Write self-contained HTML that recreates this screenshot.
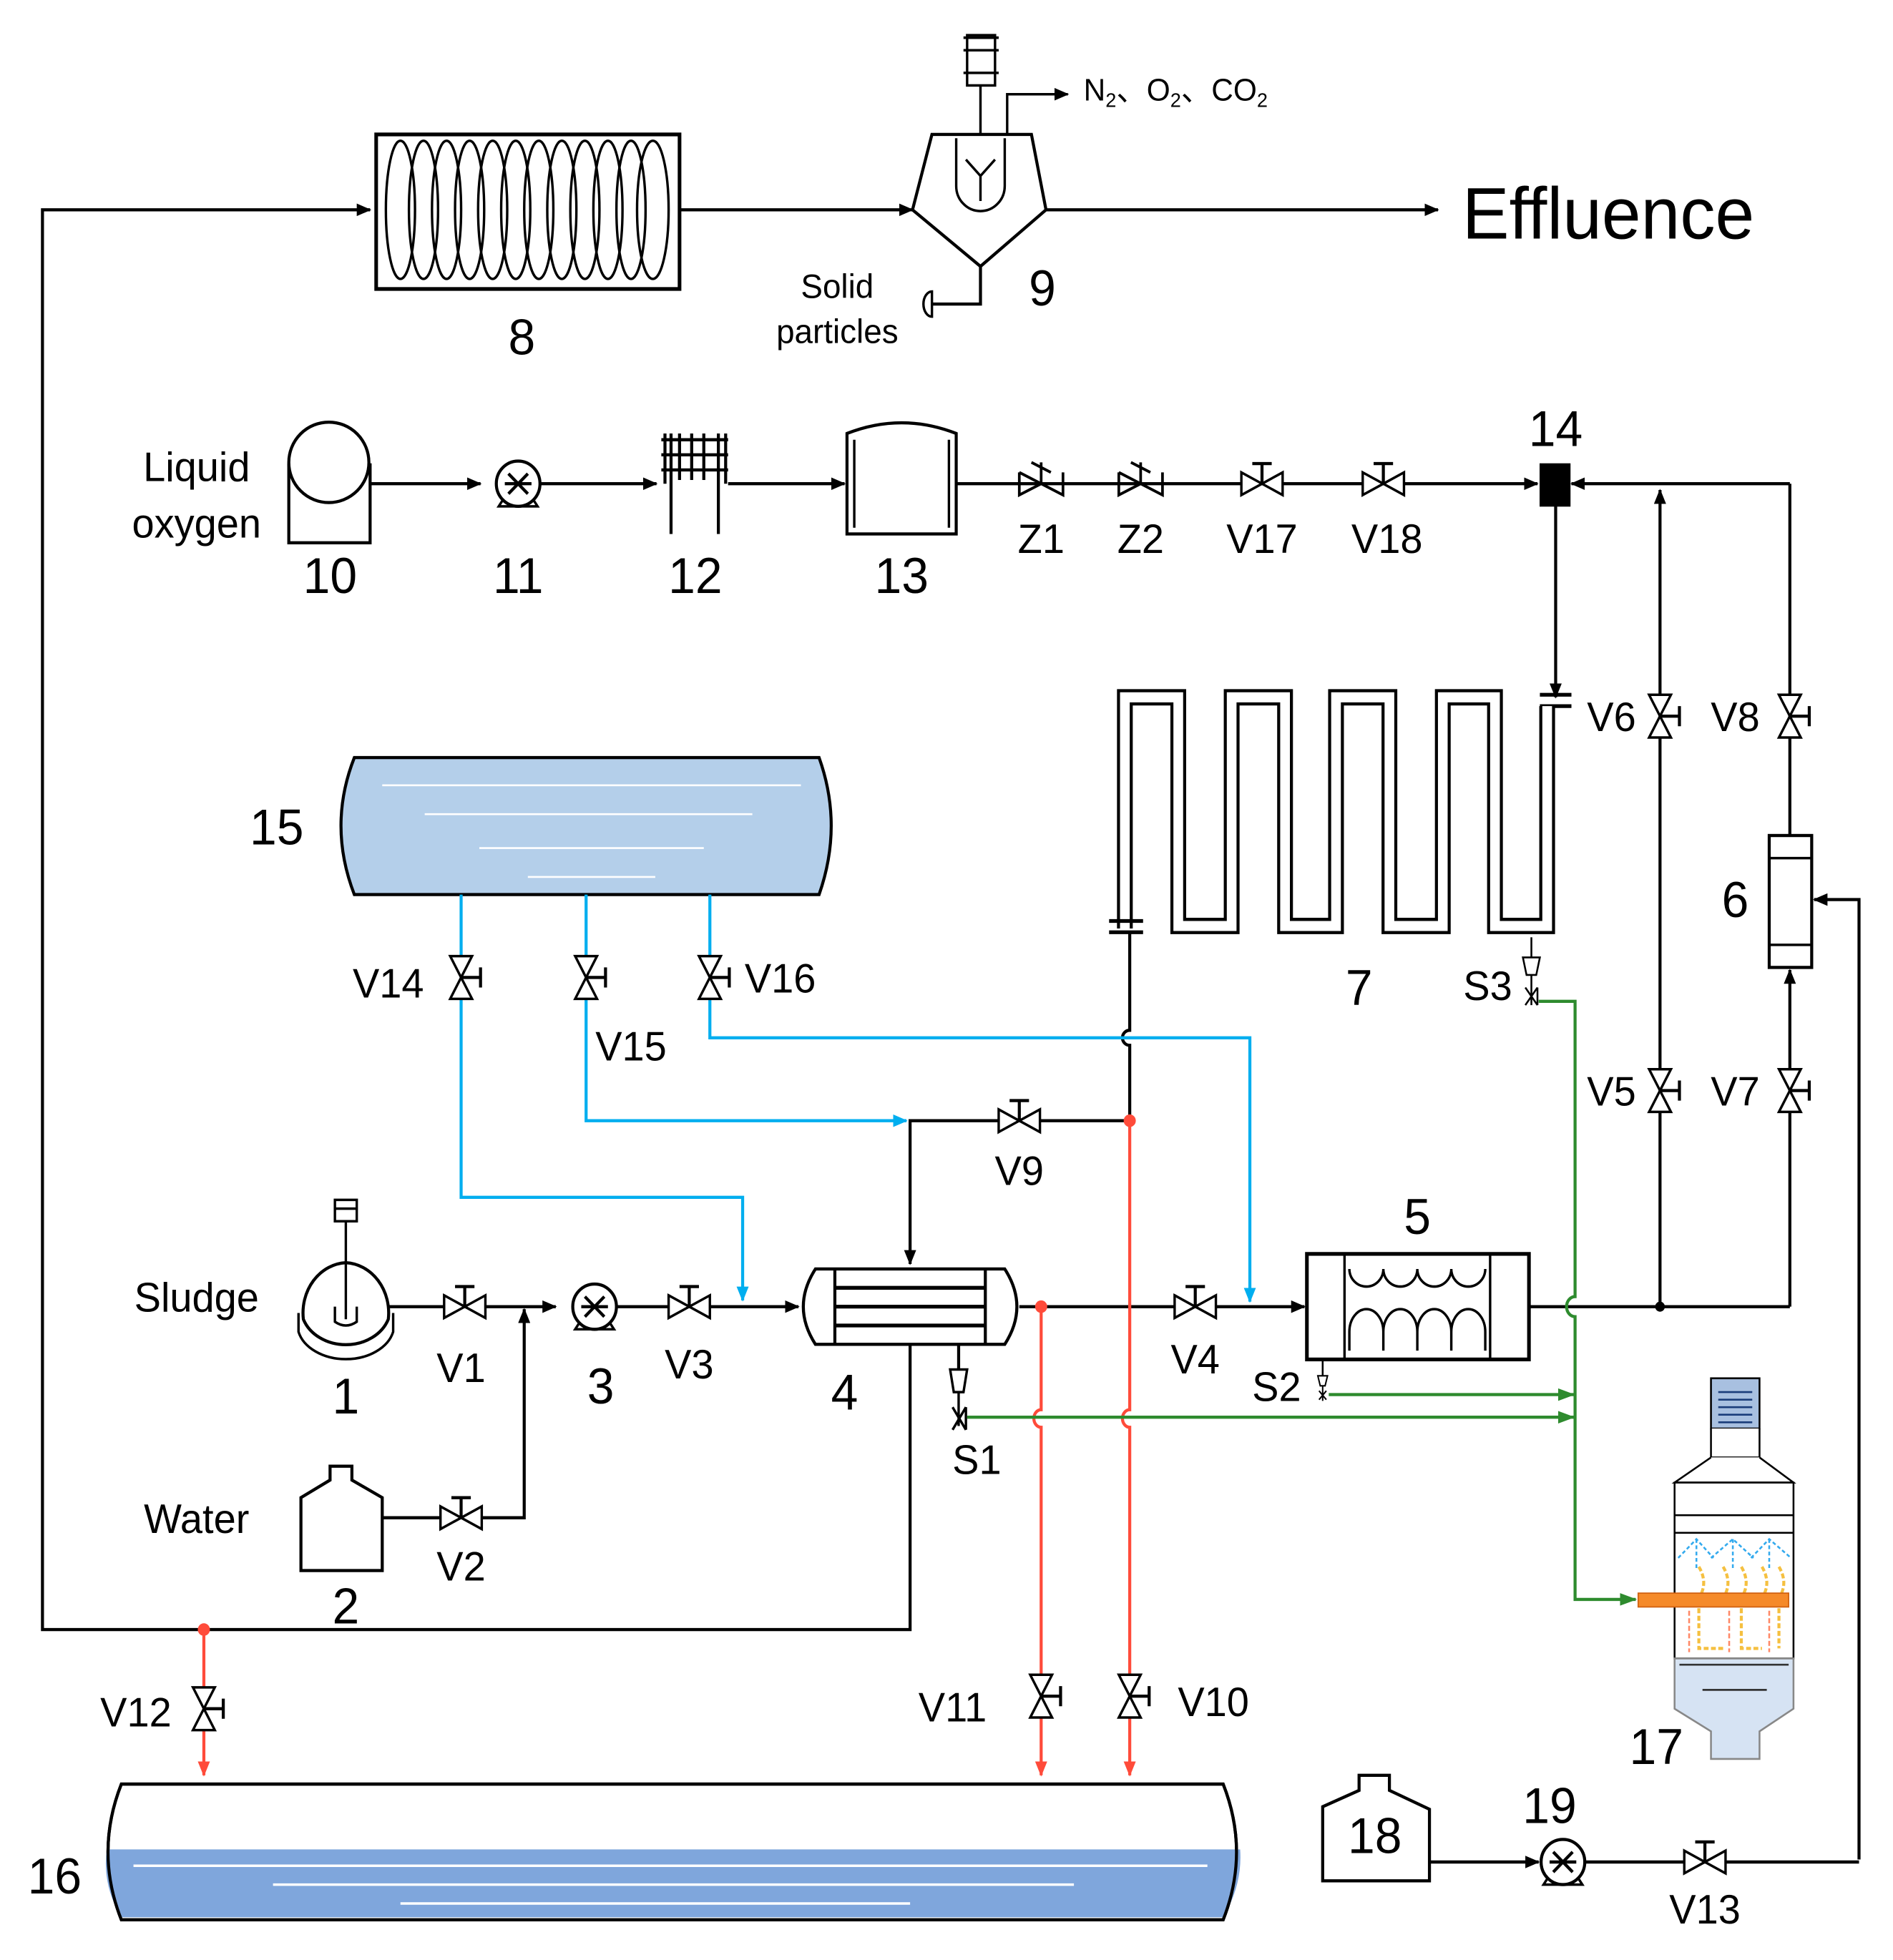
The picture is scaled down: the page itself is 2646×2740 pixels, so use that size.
<!DOCTYPE html>
<html><head><meta charset="utf-8"><style>
html,body{margin:0;padding:0;background:#fff}
svg{display:block}
text{font-family:"Liberation Sans","Noto Sans CJK SC",sans-serif;fill:#000}
</style></head><body>
<svg width="2646" height="2740" viewBox="0 0 1560 1560" preserveAspectRatio="none" xmlns="http://www.w3.org/2000/svg">
<defs>
<marker id="ab" markerWidth="12" markerHeight="10" refX="11" refY="5" orient="auto" markerUnits="userSpaceOnUse"><path d="M0,0 L12,5 L0,10 Z" fill="#000"/></marker>
<marker id="ar" markerWidth="12" markerHeight="10" refX="11" refY="5" orient="auto" markerUnits="userSpaceOnUse"><path d="M0,0 L12,5 L0,10 Z" fill="#ff4b3a"/></marker>
<marker id="abl" markerWidth="12" markerHeight="10" refX="11" refY="5" orient="auto" markerUnits="userSpaceOnUse"><path d="M0,0 L12,5 L0,10 Z" fill="#00aeef"/></marker>
<marker id="ag" markerWidth="14" markerHeight="10" refX="13" refY="5" orient="auto" markerUnits="userSpaceOnUse"><path d="M0,0 L14,5 L0,10 Z" fill="#2e8b2e"/></marker>
<g id="vh"><path d="M-17,-9 L17,9 L17,-9 L-17,9 Z" fill="#fff" stroke="#000" stroke-width="2"/><path d="M0,0 V-16 M-8,-16 H8" stroke="#000" stroke-width="2.5" fill="none"/></g>
<g id="vv"><path d="M-9,-17 L9,17 L-9,17 L9,-17 Z" fill="#fff" stroke="#000" stroke-width="2"/><path d="M0,0 H16 M16,-8 V8" stroke="#000" stroke-width="2.5" fill="none"/></g>
<g id="pump"><path d="M-16,18 L-10,9 L10,9 L16,18 Z" fill="#fff" stroke="#000" stroke-width="2"/><circle r="18" fill="#fff" stroke="#000" stroke-width="2.5"/><path d="M-8,-8 L8,8 M-8,8 L8,-8 M-11,0 H11" stroke="#000" stroke-width="2.5"/></g>
</defs>

<g fill="none" stroke="#000" stroke-width="2.5">
<path d="M750,1070 V1297 H35 V167 H305" marker-end="url(#ab)"/>
<rect x="310" y="107" width="250" height="123" stroke-width="3"/>
<g stroke-width="2">
<ellipse cx="330" cy="167" rx="12" ry="55"/><ellipse cx="349" cy="167" rx="12" ry="55"/><ellipse cx="368" cy="167" rx="12" ry="55"/><ellipse cx="387" cy="167" rx="12" ry="55"/><ellipse cx="406" cy="167" rx="12" ry="55"/><ellipse cx="425" cy="167" rx="12" ry="55"/><ellipse cx="444" cy="167" rx="12" ry="55"/><ellipse cx="463" cy="167" rx="12" ry="55"/><ellipse cx="482" cy="167" rx="12" ry="55"/><ellipse cx="501" cy="167" rx="12" ry="55"/><ellipse cx="520" cy="167" rx="12" ry="55"/><ellipse cx="538" cy="167" rx="13" ry="55"/>
</g>
<path d="M560,167 H752" marker-end="url(#ab)"/>
<path d="M768,107 H850 L862,167 L808,212 L752,167 Z" fill="#fff"/>
<path d="M788,110 V148 A20,20 0 0 0 828,148 V110" stroke-width="2"/>
<path d="M808,160 V140 L796,127 M808,140 L820,127" stroke-width="2"/>
<path d="M808,107 V68" stroke-width="2"/>
<rect x="797" y="28" width="23" height="40" fill="#fff" stroke-width="2"/>
<path d="M794,30 H823 M794,40 H823 M794,58 H823" stroke-width="2"/>
<path d="M830,107 V75 H880" stroke-width="2" marker-end="url(#ab)"/>
<path d="M862,167 H1185" marker-end="url(#ab)"/>
<path d="M808,212 V242 H768"/>
<path d="M768,232 A7,10 0 0 0 768,252 Z" stroke-width="2" fill="#fff"/>

<rect x="238" y="370" width="67" height="62" fill="#fff"/>
<ellipse cx="271" cy="368" rx="33" ry="32" fill="#fff"/>
<path d="M305,385 H396" marker-end="url(#ab)"/>
<use href="#pump" x="427" y="385"/>
<path d="M445,385 H541" marker-end="url(#ab)"/>
<g stroke-width="2.5"><path d="M553,345 V425 M592,345 V425 M560,345 V382 M570,345 V382 M580,345 V382 M545,350 H600 M545,362 H600 M545,374 H600 M548,345 V385 M598,345 V385"/></g>
<path d="M600,385 H696" marker-end="url(#ab)"/>
<path d="M698,425 V345 Q743,328 788,345 V425 Z" fill="#fff"/>
<path d="M704,350 V420 M782,350 V420" stroke-width="2"/>
<path d="M788,385 H1267" marker-end="url(#ab)"/>
<path d="M840,376 L876,394 V376 M840,376 V394 L858,385 M858,385 V368 M850,368 L866,376" stroke-width="2.2"/>
<path d="M922,376 L958,394 V376 M922,376 V394 L940,385 M940,385 V368 M932,368 L948,376" stroke-width="2.2"/>
<use href="#vh" x="1040" y="385"/><use href="#vh" x="1140" y="385"/>
<rect x="1270" y="370" width="23" height="32" fill="#000"/>
<path d="M1475,385 H1295" marker-end="url(#ab)"/>
<path d="M1282,402 V555" marker-end="url(#ab)"/>
<path d="M1269,553 H1295 M1269,562 H1295" stroke-width="3"/>
<path d="M1475,385 V665"/>
<use href="#vv" x="1475" y="570"/>
<rect x="1458" y="665" width="35" height="105" fill="#fff"/>
<path d="M1458,683 H1493 M1458,752 H1493" stroke-width="2"/>
<path d="M1475,1040 V772" marker-end="url(#ab)"/>
<use href="#vv" x="1475" y="868"/>
<path d="M1368,1040 V390" marker-end="url(#ab)"/>
<use href="#vv" x="1368" y="570"/>
<use href="#vv" x="1368" y="868"/>
<path d="M1260,1040 H1475"/>
<circle cx="1368" cy="1040" r="4" fill="#000" stroke="none"/>
<path d="M1532,1480 V716 H1495" marker-end="url(#ab)"/>
</g>

<path d="M927,739 V555 H971 V737 H1015 V555 H1059 V737 H1101 V555 H1145 V737 H1189 V555 H1232 V737 H1275 V562" fill="none" stroke="#000" stroke-width="13"/>
<path d="M927,739 V555 H971 V737 H1015 V555 H1059 V737 H1101 V555 H1145 V737 H1189 V555 H1232 V737 H1275 V562" fill="none" stroke="#fff" stroke-width="8"/>
<g stroke="#000" fill="none" stroke-width="3">
<path d="M914,733 H942 M914,742 H942"/>
</g>
<g stroke="#000" fill="none" stroke-width="2.5">
<path d="M931,742 V820 A6,6 0 0 0 931,832 V892 H750 V1006" marker-end="url(#ab)"/>
<use href="#vh" x="840" y="892"/>
<path d="M1262,746 V762" stroke-width="1.5"/>
</g>
<circle cx="931" cy="892" r="5" fill="#ff4b3a"/>

<path d="M292,603 H675 Q695,657 675,712 H292 Q270,657 292,603 Z" fill="#b4cfea" stroke="#000" stroke-width="2.5"/>
<g stroke="#fff" stroke-width="1.5"><path d="M315,625 H660 M350,648 H620 M395,675 H580 M435,698 H540"/></g>

<g fill="none" stroke="#00aeef" stroke-width="2.5">
<path d="M380,712 V953 H612 V1035" marker-end="url(#abl)"/>
<path d="M483,712 V892 H747" marker-end="url(#abl)"/>
<path d="M585,712 V826 H1030 V1036" marker-end="url(#abl)"/>
</g>
<use href="#vv" x="380" y="778"/><use href="#vv" x="483" y="778"/><use href="#vv" x="585" y="778"/>

<g fill="none" stroke="#000" stroke-width="2.5">
<path d="M285,1005 A37,40 0 0 0 250,1050 A37,30 0 0 0 320,1050 A37,40 0 0 0 285,1005 Z" fill="#fff"/>
<path d="M246,1045 V1060 A40,28 0 0 0 324,1060 V1045" stroke-width="2"/>
<path d="M285,1050 V972 M276,955 H294 V972 H276 Z M276,962 H294" stroke-width="2"/>
<path d="M276,1040 V1052 Q285,1058 294,1052 V1040" stroke-width="2"/>
<path d="M320,1040 H458" marker-end="url(#ab)"/>
<use href="#vh" x="383" y="1040"/>
<use href="#pump" x="490" y="1040"/>
<path d="M508,1040 H658" marker-end="url(#ab)"/>
<use href="#vh" x="568" y="1040"/>
<path d="M672,1010 H828 Q848,1040 828,1070 H672 Q652,1040 672,1010 Z" fill="#fff"/>
<path d="M688,1010 V1070 M812,1010 V1070"/>
<path d="M688,1025 H812 M688,1040 H812 M688,1055 H812" stroke-width="3"/>
<path d="M840,1040 H1075" marker-end="url(#ab)"/>
<use href="#vh" x="985" y="1040"/>
<path d="M790,1070 V1090"/>
<path d="M783,1090 H797 L794,1108 H786 Z" fill="#fff" stroke-width="2"/>
<path d="M790,1108 V1135 M785,1120 L796,1138 M785,1138 L796,1120 M796,1120 V1138" stroke-width="2"/>
<rect x="1077" y="998" width="183" height="84" fill="#fff" stroke-width="3"/>
<path d="M1108,998 V1082 M1228,998 V1082" stroke-width="2"/>
<path d="M1112,1010 A14,14 0 0 0 1140,1010 A14,14 0 0 0 1168,1010 A14,14 0 0 0 1196,1010 A14,14 0 0 0 1224,1010" stroke-width="2"/>
<path d="M1112,1075 V1060 A14,18 0 0 1 1140,1060 A14,18 0 0 1 1168,1060 A14,18 0 0 1 1196,1060 A14,18 0 0 1 1224,1060 V1075 M1140,1060 V1075 M1168,1060 V1075 M1196,1060 V1075" stroke-width="2"/>
<path d="M1090,1082 V1095" stroke-width="1.5"/>
<path d="M1086,1095 H1094 L1092,1103 H1088 Z M1090,1103 V1115 M1087,1107 L1093,1114 M1087,1114 L1093,1107" stroke-width="1.2"/>
<path d="M248,1250 V1192 L272,1178 V1167 H290 V1178 L315,1192 V1250 Z" fill="#fff"/>
<path d="M315,1208 H432 V1042" marker-end="url(#ab)"/>
<use href="#vh" x="380" y="1208"/>
</g>

<g fill="none" stroke="#ff4b3a" stroke-width="2.5">
<path d="M858,1040 V1122 A6,7 0 0 0 858,1136 V1413" marker-end="url(#ar)"/>
<path d="M931,892 V1122 A6,7 0 0 0 931,1136 V1413" marker-end="url(#ar)"/>
<path d="M168,1297 V1413" marker-end="url(#ar)"/>
</g>
<circle cx="858" cy="1040" r="5" fill="#ff4b3a"/>
<circle cx="168" cy="1297" r="5" fill="#ff4b3a"/>
<use href="#vv" x="858" y="1350"/><use href="#vv" x="931" y="1350"/><use href="#vv" x="168" y="1360"/>

<g fill="none" stroke="#2e8b2e" stroke-width="2.5">
<path d="M1095,1110 H1297" marker-end="url(#ag)"/>
<path d="M797,1128 H1297" marker-end="url(#ag)"/>
<path d="M1268,797 H1298 V1032 A7,8 0 0 0 1298,1048 V1273 H1348" marker-end="url(#ag)"/>
</g>
<g fill="none" stroke="#000" stroke-width="1.5">
<path d="M1255,762 H1269 L1266,776 H1258 Z M1262,776 V800 M1257,786 L1267,800 M1257,800 L1267,786 M1267,786 V800"/>
</g>

<path d="M100,1420 H1008 Q1030,1474 1008,1528 H100 Q78,1474 100,1420 Z" fill="#fff" stroke="#000" stroke-width="2.5"/>
<path d="M88,1472 H1022 Q1024,1500 1008,1526 H100 Q84,1500 88,1472 Z" fill="#7fa6dc"/>
<path d="M100,1420 H1008 Q1030,1474 1008,1528 H100 Q78,1474 100,1420 Z" fill="none" stroke="#000" stroke-width="2.5"/>
<g stroke="#fff" stroke-width="2"><path d="M110,1485 H995 M225,1500 H885 M330,1515 H750"/></g>

<g fill="none" stroke="#000" stroke-width="2.5">
<path d="M1090,1497 V1438 L1120,1425 V1413 H1145 V1425 L1178,1440 V1497 Z" fill="#fff"/>
<path d="M1178,1482 H1268" marker-end="url(#ab)"/>
<use href="#pump" x="1288" y="1482"/>
<path d="M1306,1482 H1532"/>
<use href="#vh" x="1405" y="1482"/>
</g>

<g stroke="#000" stroke-width="1.5">
<rect x="1410" y="1097" width="40" height="40" fill="#a8c0e0"/>
<path d="M1416,1108 H1444 M1416,1114 H1444 M1416,1120 H1444 M1416,1126 H1444 M1416,1132 H1444" stroke="#1a3d7a" stroke-width="1.5"/>
<path d="M1410,1137 V1160 H1450 V1137" fill="#fff"/>
<path d="M1410,1160 L1380,1180 H1478 L1450,1160" fill="#fff"/>
<rect x="1380" y="1180" width="98" height="140" fill="#fff"/>
<path d="M1380,1206 H1478 M1380,1220 H1478" stroke-width="1.5"/>
<path d="M1380,1320 H1478 V1360 L1450,1378 V1400 H1410 V1378 L1380,1360 Z" fill="#d6e3f3" stroke="#888"/>
<path d="M1384,1325 H1474 M1403,1345 H1456" stroke="#333"/>
</g>
<g fill="none" stroke="#33aaee" stroke-width="1.5" stroke-dasharray="3,2">
<path d="M1383,1240 L1398,1225 L1412,1240 M1410,1240 L1428,1225 L1445,1240 M1443,1240 L1458,1225 L1476,1240"/>
<path d="M1398,1225 V1248 M1428,1225 V1248 M1458,1225 V1248"/>
</g>
<g fill="none" stroke="#f5c040" stroke-width="2.5" stroke-dasharray="4,2">
<path d="M1400,1247 Q1408,1260 1400,1272 M1420,1247 Q1428,1260 1420,1272 M1435,1247 Q1443,1260 1435,1272 M1452,1247 Q1460,1260 1452,1272 M1466,1247 Q1474,1260 1466,1272"/>
<path d="M1400,1280 V1312 H1420 M1435,1280 V1312 H1452 M1466,1280 V1312"/>
</g>
<g stroke="#ff8866" stroke-width="1.5" stroke-dasharray="4,2"><path d="M1392,1282 V1315 M1425,1282 V1315 M1458,1282 V1315"/></g>
<rect x="1350" y="1268" width="124" height="11" fill="#f58a2a" stroke="#d06010" stroke-width="1"/>

<g font-size="36">
<text x="1205" y="190" font-size="58">Effluence</text>
<text x="893" y="80" font-size="25">N<tspan font-size="16" dy="5">2</tspan><tspan dy="-5">、O</tspan><tspan font-size="16" dy="5">2</tspan><tspan dy="-5">、CO</tspan><tspan font-size="16" dy="5">2</tspan></text>
<text x="690" y="237" font-size="27" text-anchor="middle">Solid</text>
<text x="690" y="273" font-size="27" text-anchor="middle">particles</text>
<text x="430" y="282" text-anchor="middle" font-size="40">8</text>
<text x="859" y="243" text-anchor="middle" font-size="40">9</text>
<text x="162" y="383" font-size="33" text-anchor="middle">Liquid</text>
<text x="162" y="428" font-size="33" text-anchor="middle">oxygen</text>
<text x="272" y="472" text-anchor="middle" font-size="40">10</text>
<text x="427" y="472" text-anchor="middle" font-size="40">11</text>
<text x="573" y="472" text-anchor="middle" font-size="40">12</text>
<text x="743" y="472" text-anchor="middle" font-size="40">13</text>
<text x="858" y="440" text-anchor="middle" font-size="33">Z1</text>
<text x="940" y="440" text-anchor="middle" font-size="33">Z2</text>
<text x="1040" y="440" text-anchor="middle" font-size="33">V17</text>
<text x="1143" y="440" text-anchor="middle" font-size="33">V18</text>
<text x="1282" y="355" text-anchor="middle" font-size="40">14</text>
<text x="1328" y="582" text-anchor="middle" font-size="33">V6</text>
<text x="1430" y="582" text-anchor="middle" font-size="33">V8</text>
<text x="1328" y="880" text-anchor="middle" font-size="33">V5</text>
<text x="1430" y="880" text-anchor="middle" font-size="33">V7</text>
<text x="1430" y="730" text-anchor="middle" font-size="40">6</text>
<text x="1120" y="800" text-anchor="middle" font-size="40">7</text>
<text x="1226" y="796" text-anchor="middle" font-size="33">S3</text>
<text x="228" y="672" text-anchor="middle" font-size="40">15</text>
<text x="320" y="794" text-anchor="middle" font-size="33">V14</text>
<text x="520" y="844" text-anchor="middle" font-size="33">V15</text>
<text x="643" y="790" text-anchor="middle" font-size="33">V16</text>
<text x="840" y="943" text-anchor="middle" font-size="33">V9</text>
<text x="1168" y="982" text-anchor="middle" font-size="40">5</text>
<text x="162" y="1044" font-size="33" text-anchor="middle">Sludge</text>
<text x="285" y="1125" text-anchor="middle" font-size="40">1</text>
<text x="380" y="1100" text-anchor="middle" font-size="33">V1</text>
<text x="495" y="1117" text-anchor="middle" font-size="40">3</text>
<text x="568" y="1097" text-anchor="middle" font-size="33">V3</text>
<text x="696" y="1122" text-anchor="middle" font-size="40">4</text>
<text x="985" y="1093" text-anchor="middle" font-size="33">V4</text>
<text x="1052" y="1115" text-anchor="middle" font-size="33">S2</text>
<text x="805" y="1173" text-anchor="middle" font-size="33">S1</text>
<text x="162" y="1220" font-size="33" text-anchor="middle">Water</text>
<text x="285" y="1292" text-anchor="middle" font-size="40">2</text>
<text x="380" y="1258" text-anchor="middle" font-size="33">V2</text>
<text x="785" y="1370" text-anchor="middle" font-size="33">V11</text>
<text x="1000" y="1366" text-anchor="middle" font-size="33">V10</text>
<text x="112" y="1374" text-anchor="middle" font-size="33">V12</text>
<text x="45" y="1507" text-anchor="middle" font-size="40">16</text>
<text x="1365" y="1404" text-anchor="middle" font-size="40">17</text>
<text x="1133" y="1475" text-anchor="middle" font-size="40">18</text>
<text x="1277" y="1451" text-anchor="middle" font-size="40">19</text>
<text x="1405" y="1531" text-anchor="middle" font-size="33">V13</text>
</g>
</svg>
</body></html>
